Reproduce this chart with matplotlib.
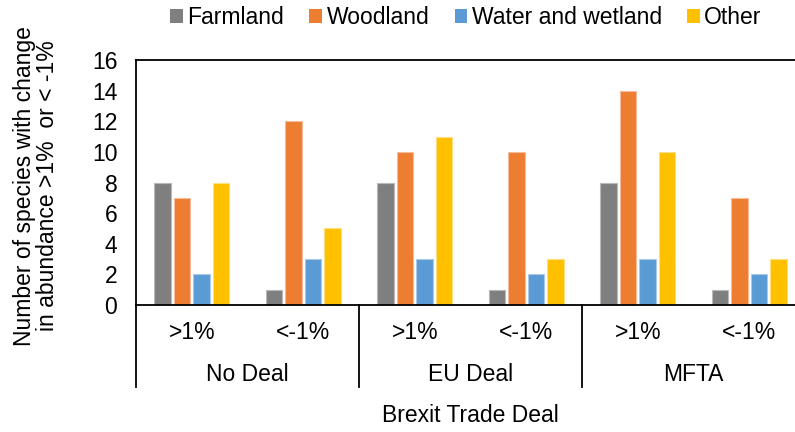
import numpy as np
import matplotlib
matplotlib.use('Agg')
import matplotlib.pyplot as plt
import matplotlib.transforms as mtransforms
from matplotlib.patches import Patch

plt.rcParams['font.family'] = ['Liberation Sans', 'DejaVu Sans']

# data
deals = ['No Deal', 'EU Deal', 'MFTA']
changes = ['>1%', '<-1%']
series = ['Farmland', 'Woodland', 'Water and wetland', 'Other']
farmland = [8, 1, 8, 1, 8, 1]
woodland = [7, 12, 10, 10, 14, 7]
water = [2, 3, 3, 2, 3, 2]
other = [8, 5, 11, 3, 10, 3]
yticks = [0, 2, 4, 6, 8, 10, 12, 14, 16]

COLORS = ['#7f7f7f', '#ed7d31', '#5b9bd5', '#ffc000']
EDGES = ['#b8b8b8', '#f6bb98', '#a9c9ea', '#ffdf80']

fig = plt.figure(figsize=(7.95, 4.32), dpi=100)
ax = fig.add_axes([136/795, 1-305/432, 669/795, 245/432])

x = np.arange(len(farmland))
slot = 0.175
width = 0.145
for i, vals in enumerate([farmland, woodland, water, other]):
    ax.bar(x + (i - 1.5)*slot, vals, width=width, color=COLORS[i],
           edgecolor=EDGES[i], linewidth=0.8, zorder=2)

ax.set_xlim(-0.5, len(farmland) - 0.5)
ax.set_ylim(0, 16)
ax.set_yticks(yticks)
ax.tick_params(axis='y', length=0, labelsize=16.5, pad=13.5)
ax.set_xticks([])
for s in ['left', 'top', 'bottom']:
    ax.spines[s].set_linewidth(1.3)
    ax.spines[s].set_color('black')
ax.spines['right'].set_visible(False)

# multi-level category axis
trans = mtransforms.blended_transform_factory(ax.transData, ax.transAxes)
for k in range(len(deals) + 1):
    xs = -0.5 + 2*k
    ax.plot([xs, xs], [0, -0.335], color='black', lw=1.3, transform=trans,
            clip_on=False)
for j in range(len(farmland)):
    ax.text(j, -0.114, changes[j % 2], transform=trans, ha='center',
            va='center', fontsize=16.5)
for k, d in enumerate(deals):
    ax.text(2*k + 0.5, -0.282, d, transform=trans, ha='center',
            va='center', fontsize=16.5)
fig.text(470/795, 1-416/432, 'Brexit Trade Deal', ha='center', va='center',
         fontsize=16.5)

fig.text(36/795, 1-186/432,
         'Number of species with change\nin abundance >1%  or < -1%',
         rotation=90, ha='center', va='center', fontsize=16.5,
         linespacing=1.0, multialignment='center')

handles = [Patch(facecolor=c) for c in COLORS]
fig.legend(handles, series, loc='center', bbox_to_anchor=(466/795, 1-18/432),
           ncol=4, frameon=False, fontsize=16.5, handlelength=0.55,
           handleheight=0.55, handletextpad=0.2, columnspacing=1.1)

fig.savefig('out.png', dpi=100, facecolor='white')
